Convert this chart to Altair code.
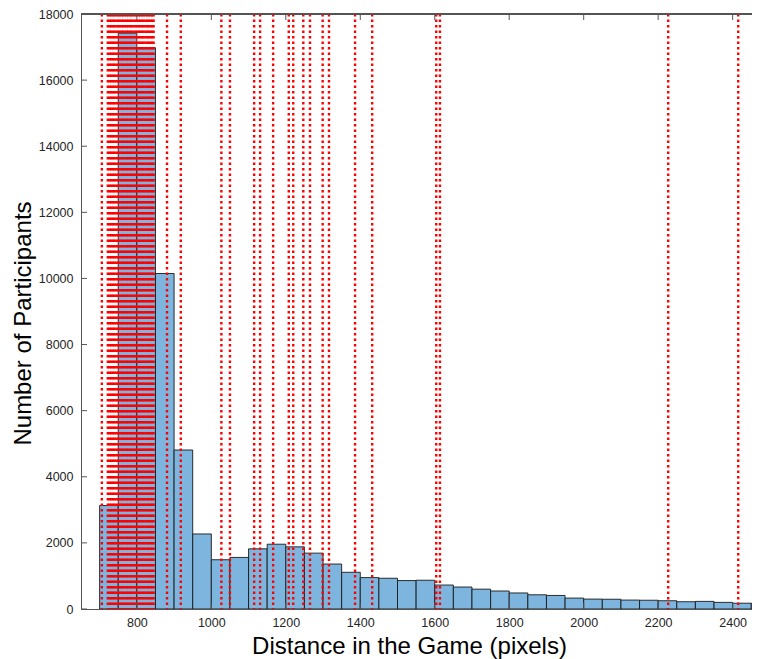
import altair as alt
import pandas as pd

# Histogram bins (50 px wide) and counts
bin_starts = [700, 750, 800, 850, 900, 950, 1000, 1050, 1100, 1150, 1200, 1250,
              1300, 1350, 1400, 1450, 1500, 1550, 1600, 1650, 1700, 1750, 1800,
              1850, 1900, 1950, 2000, 2050, 2100, 2150, 2200, 2250, 2300, 2350,
              2400, 2450]
counts = [3130, 17420, 16980, 10150, 4810, 2270, 1490, 1560, 1820, 1960, 1880,
          1690, 1360, 1110, 950, 930, 860, 870, 725, 665, 600, 545, 485, 430,
          410, 330, 300, 295, 270, 265, 250, 220, 230, 200, 175, 170]
bin_width = 50

# Red dotted reference lines (distance values)
ref_lines = [706, 722, 727, 731, 736, 740, 745, 750, 754, 759, 763, 768, 773,
             777, 782, 786, 791, 796, 800, 805, 809, 814, 818, 823, 828, 832,
             837, 841, 845, 881, 918, 1027, 1050, 1115, 1131, 1166, 1208, 1220,
             1247, 1265, 1299, 1316, 1386, 1432, 1604, 1614, 2227, 2415]

x_ticks = [800, 1000, 1200, 1400, 1600, 1800, 2000, 2200, 2400]
y_ticks = [0, 2000, 4000, 6000, 8000, 10000, 12000, 14000, 16000, 18000]

X_DOMAIN = [650, 2452]
Y_DOMAIN = [0, 18000]
W, H = 671, 595
FONT = "Liberation Sans"

bars = pd.DataFrame({
    "start": bin_starts,
    "end": [b + bin_width for b in bin_starts],
    "count": counts,
})
lines = pd.DataFrame({"v": ref_lines})
xt = pd.DataFrame({"v": x_ticks})
yt = pd.DataFrame({"v": y_ticks})

xscale = alt.Scale(domain=X_DOMAIN, nice=False, zero=False)
yscale = alt.Scale(domain=Y_DOMAIN, nice=False)

bar_layer = alt.Chart(bars).mark_rect(
    fill="#7DB5DE", stroke="#1a1a1a", strokeWidth=1, strokeOpacity=0.9, clip=True
).encode(
    x=alt.X("start:Q", scale=xscale,
            axis=alt.Axis(values=x_ticks, format="d", title="Distance in the Game (pixels)",
                          grid=False, tickSize=0, labelPadding=7,
                          labelFontSize=12.5, labelColor="#262626", labelFont=FONT,
                          titleFont=FONT, titleFontSize=24, titleFontWeight="normal",
                          titleColor="#000000", titleX=328, titleY=44,
                          titleBaseline="alphabetic", titleAlign="center",
                          domainColor="#555555", domainWidth=1)),
    x2="end:Q",
    y=alt.Y("count:Q", scale=yscale,
            axis=alt.Axis(values=y_ticks, format="d", title="Number of Participants",
                          grid=False, tickSize=0, labelPadding=8,
                          labelFontSize=12.5, labelColor="#262626", labelFont=FONT,
                          titleFont=FONT, titleFontSize=24, titleFontWeight="normal",
                          titleColor="#000000", titleX=-58, titleY=309,
                          titleBaseline="middle", titleAlign="center", titleAngle=-90,
                          domainColor="#555555", domainWidth=1)),
    y2=alt.datum(0),
)

line_layer = alt.Chart(lines).mark_rule(
    color="#FF0000", strokeWidth=2.4, strokeDash=[2.5, 3], clip=True
).encode(x=alt.X("v:Q", scale=xscale))

top_ticks = alt.Chart(xt).mark_rule(color="#555555", strokeWidth=1).encode(
    x=alt.X("v:Q", scale=xscale), y=alt.value(0), y2=alt.value(6))
bottom_ticks = alt.Chart(xt).mark_rule(color="#555555", strokeWidth=1).encode(
    x=alt.X("v:Q", scale=xscale), y=alt.value(H), y2=alt.value(H - 6))
left_ticks = alt.Chart(yt).mark_rule(color="#555555", strokeWidth=1).encode(
    y=alt.Y("v:Q", scale=yscale), x=alt.value(0), x2=alt.value(6))
top_border = alt.Chart(xt).mark_rule(color="#555555", strokeWidth=1).encode(
    x=alt.value(0), x2=alt.value(W), y=alt.value(0))

chart = alt.layer(
    bar_layer, line_layer, top_ticks, bottom_ticks, left_ticks, top_border
).properties(
    width=W, height=H,
    autosize=alt.AutoSizeParams(type="none"),
    padding={"left": 73, "top": 6, "right": 0, "bottom": 50},
).configure_view(stroke=None).configure(background="white")

chart.save("out.html", embed_options={"renderer": "svg", "actions": False})
